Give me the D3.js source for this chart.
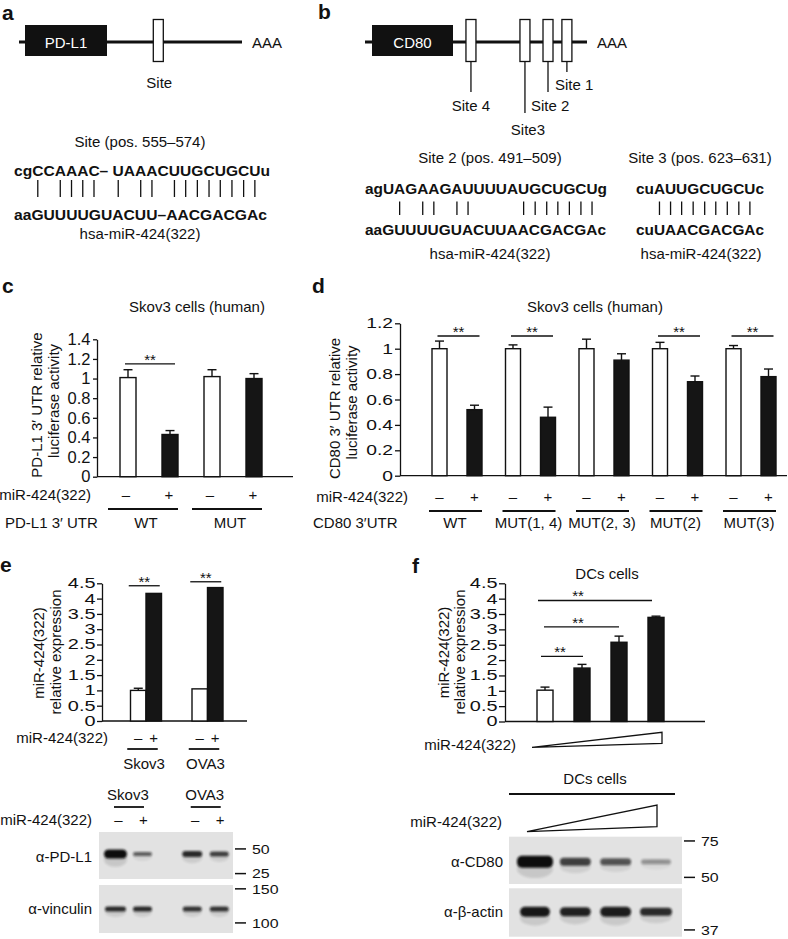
<!DOCTYPE html>
<html><head><meta charset="utf-8">
<script src="https://cdn.jsdelivr.net/npm/d3@7"></script>
<style>
html,body{margin:0;padding:0;background:#fff;}
svg text{font-family:"Liberation Sans",Arial,Helvetica,sans-serif;fill:#111;}
</style></head><body>
<svg id="fig" width="788" height="939" xmlns="http://www.w3.org/2000/svg"></svg>
<script>
// ================= DATA =================
// panel a
const aSeqTop = "cgCCAAAC\u2013 UAAACUUGCUGCUu";
const aSeqBottom = "aaGUUUUGUACUU\u2013AACGACGAc";
const aPairIdx = [2,4,5,6,7,10,12,13,15,16,17,18,19,20,21,22];
const aSitePos = [38];            // relative position on PD-L1 3'UTR (0-100)
// panel b
const bSiteNames = ["Site 4","Site3","Site 2","Site 1"];
const bSitePos = [13.4,53.7,70.9,85];   // relative position on CD80 3'UTR (0-100)
const bSite2Top = "agUAGAAGAUUUUAUGCUGCUg";
const bSite2Bottom = "aaGUUUUGUACUUAACGACGAc";
const bSite2PairIdx = [3,5,6,8,9,14,15,16,17,18,19,20];
const bSite3Top = "cuAUUGCUGCUc";
const bSite3Bottom = "cuUAACGACGAc";
const bSite3PairIdx = [2,3,4,5,6,7,8,9,10];
// panel c
const cGroups = ["WT","MUT"];
const cMinus = [1.01,1.02], cMinusErr = [0.08,0.07];
const cPlus = [0.43,1.00], cPlusErr = [0.04,0.05];
const cTicks = [0,0.2,0.4,0.6,0.8,1,1.2,1.4];
const cSigGroups = ["WT"], cSigLevel = 1.15;
// panel d
const dGroups = ["WT","MUT(1, 4)","MUT(2, 3)","MUT(2)","MUT(3)"];
const dMinus = [1,1,1,1,1], dMinusErr = [0.06,0.03,0.075,0.05,0.025];
const dPlus = [0.52,0.46,0.91,0.74,0.78], dPlusErr = [0.035,0.08,0.05,0.045,0.06];
const dTicks = [0,0.2,0.4,0.6,0.8,1,1.2];
const dSigGroups = ["WT","MUT(1, 4)","MUT(2)","MUT(3)"], dSigLevel = 1.1;
// panel e
const eGroups = ["Skov3","OVA3"];
const eMinus = [1.0,1.05], eMinusErr = [0.07,0];
const ePlus = [4.17,4.36], ePlusErr = [0,0];
const eTicks = [0,0.5,1,1.5,2,2.5,3,3.5,4,4.5];
const eSigLevel = [4.42,4.55];
const ePDL1Band = [1.0,0.6,0.85,0.75], ePDL1Thick = [9,4,6,5];
const eVincBand = [0.85,0.85,0.8,0.8], eVincThick = [5,5,5,5];
const eMarkTop = ["50","25"], eMarkTopPos = [0.36,0.885];
const eMarkBot = ["150","100"], eMarkBotPos = [0.08,0.79];
// panel f
const fLevels = ["1","2","3","4"];
const fValues = [1.02,1.74,2.58,3.39], fErr = [0.1,0.12,0.2,0.04];
const fTicks = [0,0.5,1,1.5,2,2.5,3,3.5,4,4.5];
const fSig = [{to:3, level:3.94},{to:2, level:3.08},{to:1, level:2.12}];
const fCD80Band = [1.0,0.75,0.65,0.35], fCD80Thick = [12,8,7,5];
const fActinBand = [0.95,0.9,0.92,0.85], fActinThick = [10,9,10,8];
const fMarkTop = ["75","50"], fMarkTopPos = [0.09,0.86];
const fMarkBot = ["37"], fMarkBotPos = [0.86];

// ================= DRAWING =================
const svg = d3.select("#fig");
const INK = "#111";
const defs = svg.append("defs");
defs.append("filter").attr("id","blur").attr("x","-50%").attr("y","-100%").attr("width","200%").attr("height","300%")
  .append("feGaussianBlur").attr("stdDeviation",1.1);

function txt(g,x,y,s,o={}){
  const t=g.append("text").attr("x",x).attr("y",y).text(s)
    .attr("font-size",o.size||15).attr("text-anchor",o.anchor||"start");
  if(o.bold) t.attr("font-weight","bold");
  if(o.fill) t.style("fill",o.fill);
  return t;
}
function ln(g,x1,y1,x2,y2,w){
  return g.append("line").attr("x1",x1).attr("y1",y1).attr("x2",x2).attr("y2",y2)
    .attr("stroke",INK).attr("stroke-width",w||1.3);
}
function vlabel(g,x,y,s){
  return g.append("text").attr("transform",`translate(${x},${y}) rotate(-90)`)
    .attr("text-anchor","middle").attr("font-size",15).text(s);
}
function duplex(g,top,bottom,pairs,x0,wTop,wBot,yTop,yBot,l1,l2){
  const t=txt(g,x0,yTop,top,{bold:true,size:15.5}).attr("textLength",wTop).attr("lengthAdjust","spacingAndGlyphs");
  txt(g,x0,yBot,bottom,{bold:true,size:15.5}).attr("textLength",wBot).attr("lengthAdjust","spacingAndGlyphs");
  const n=t.node();
  pairs.forEach(i=>{
    let cx;
    try{const a=n.getStartPositionOfChar(i),b=n.getEndPositionOfChar(i);cx=(a.x+b.x)/2;}
    catch(e){cx=x0+wTop*(i+0.5)/top.length;}
    ln(g,cx,l1,cx,l2,1.3);
  });
}

// panel labels
[["a",2,20],["b",318,19],["c",2,293],["d",312,293],["e",0,572],["f",412,573]]
  .forEach(([s,x,y])=>txt(svg,x,y,s,{bold:true,size:21}));

// ---------- panel a ----------
{
  const g=svg.append("g");
  const utr=d3.scaleLinear().domain([0,100]).range([107,242]);
  ln(g,19,42,utr(100),42,3.2);
  g.append("rect").attr("x",25).attr("y",25).attr("width",utr(0)-25).attr("height",31).attr("fill",INK);
  txt(g,(25+utr(0))/2,47.5,"PD-L1",{anchor:"middle",fill:"#fff"});
  aSitePos.forEach(p=>{
    g.append("rect").attr("x",utr(p)-5).attr("y",19.5).attr("width",10).attr("height",42)
      .attr("fill","#fff").attr("stroke",INK).attr("stroke-width",1.3);
    txt(g,utr(p)+1,88,"Site",{anchor:"middle"});
  });
  txt(g,utr(100)+10,47.5,"AAA");
  txt(g,140,147,"Site (pos. 555\u2013574)",{anchor:"middle"});
  duplex(g,aSeqTop,aSeqBottom,aPairIdx,14,256,253,175.5,219.5,180,197);
  txt(g,140,239,"hsa-miR-424(322)",{anchor:"middle"});
}

// ---------- panel b ----------
{
  const g=svg.append("g");
  const utr=d3.scaleLinear().domain([0,100]).range([453,587]);
  ln(g,365,42,utr(100),42,3.2);
  g.append("rect").attr("x",372).attr("y",25).attr("width",utr(0)-372).attr("height",31).attr("fill",INK);
  txt(g,(372+utr(0))/2,47.5,"CD80",{anchor:"middle",fill:"#fff"});
  const leaderEnd=[92,113,92,72];
  const labelPos=[[0,111,"middle"],[3,135,"middle"],[-17,111,"start"],[-12,90,"start"]];
  bSitePos.forEach((p,i)=>{
    const cx=utr(p);
    ln(g,cx,61.5,cx,leaderEnd[i],1.3);
    g.append("rect").attr("x",cx-5).attr("y",19.5).attr("width",10).attr("height",42)
      .attr("fill","#fff").attr("stroke",INK).attr("stroke-width",1.3);
    txt(g,cx+labelPos[i][0],labelPos[i][1],bSiteNames[i],{anchor:labelPos[i][2]});
  });
  txt(g,utr(100)+10,47.5,"AAA");
  txt(g,490,162.5,"Site 2 (pos. 491\u2013509)",{anchor:"middle"});
  txt(g,700,162.5,"Site 3 (pos. 623\u2013631)",{anchor:"middle"});
  duplex(g,bSite2Top,bSite2Bottom,bSite2PairIdx,365,242,241,194,235,201.5,215);
  duplex(g,bSite3Top,bSite3Bottom,bSite3PairIdx,636,128,128,194,235,201.5,215);
  txt(g,490,259,"hsa-miR-424(322)",{anchor:"middle"});
  txt(g,701,259,"hsa-miR-424(322)",{anchor:"middle"});
}

// ---------- helpers for bar panels ----------
function axis(g,y,x0,x1,ticks,ts,tp,fs,sx){
  const ax=d3.axisLeft(y).tickValues(ticks).tickSize(ts).tickPadding(tp).tickSizeOuter(0).tickFormat(d=>String(d));
  const ag=g.append("g").attr("transform",`translate(${x0},0)`).call(ax);
  ag.attr("font-family",null).attr("font-size",null);
  ag.selectAll("text").attr("font-size",fs)
    .attr("x",-(ts+tp)/sx).attr("transform",`scale(${sx},1)`);
  ag.selectAll("line,path").attr("stroke",INK).attr("stroke-width",1.3);
  ln(g,x0,y(0),x1,y(0),1.3);
}
function bar(g,cx,bw,y,v,e,filled){
  if(e>0){
    ln(g,cx,y(v),cx,y(v+e),1.4);
    ln(g,cx-4.5,y(v+e),cx+4.5,y(v+e),1.4);
  }
  g.append("rect").attr("x",cx-bw/2).attr("y",y(v)).attr("width",bw).attr("height",y(0)-y(v))
    .attr("fill",filled?"#151515":"#fff").attr("stroke",INK).attr("stroke-width",1.4);
}
function sig(g,x1,x2,yp,sx){
  ln(g,x1,yp,x2,yp,1.3);
  txt(g,sx===undefined?(x1+x2)/2:sx,yp+1,"**",{anchor:"middle",size:15});
}

// ---------- panel c ----------
{
  const g=svg.append("g");
  const y=d3.scaleLinear().domain([0,1.4]).range([476.7,339.3]);
  const x=d3.scaleBand().domain(cGroups).range([107,275]);
  const s=d3.scalePoint().domain(["-","+"]).range([0,x.bandwidth()]).padding(0.5);
  txt(g,197,312,"Skov3 cells (human)",{anchor:"middle"});
  axis(g,y,97,293,cTicks,4,2.5,16.5,1);
  cGroups.forEach((k,i)=>{
    const c1=x(k)+s("-"),c2=x(k)+s("+");
    bar(g,c1,16,y,cMinus[i],cMinusErr[i],false);
    bar(g,c2,16,y,cPlus[i],cPlusErr[i],true);
    if(cSigGroups.includes(k)) sig(g,c1-3,c2+5,y(cSigLevel));
    txt(g,c1-2,500,"\u2013",{anchor:"middle"});
    txt(g,c2-1,500,"+",{anchor:"middle"});
    ln(g,c1-20,509,c2+8,509,1.8);
    txt(g,(c1+c2)/2-3,528,k,{anchor:"middle"});
  });
  vlabel(g,42,405,"PD-L1 3\u2032 UTR relative");
  vlabel(g,58.5,401,"luciferase activity");
  txt(g,91,500,"miR-424(322)",{anchor:"end"});
  txt(g,5,528,"PD-L1 3\u2032 UTR");
}

// ---------- panel d ----------
{
  const g=svg.append("g");
  const y=d3.scaleLinear().domain([0,1.2]).range([475.7,323.3]);
  const x=d3.scaleBand().domain(dGroups).range([420.25,787.75]);
  const s=d3.scalePoint().domain(["-","+"]).range([0,x.bandwidth()]).padding(0.55);
  txt(g,595,312,"Skov3 cells (human)",{anchor:"middle"});
  axis(g,y,400,787,dTicks,5,2,14.5,1.33);
  dGroups.forEach((k,i)=>{
    const c1=x(k)+s("-"),c2=x(k)+s("+");
    bar(g,c1,15,y,dMinus[i],dMinusErr[i],false);
    bar(g,c2,15,y,dPlus[i],dPlusErr[i],true);
    if(dSigGroups.includes(k)) sig(g,c1-2,c2+5,y(dSigLevel));
    txt(g,c1,502,"\u2013",{anchor:"middle"});
    txt(g,c2,502,"+",{anchor:"middle"});
    ln(g,c1-10.5,511,c2+7.5,511,1.8);
    txt(g,(c1+c2)/2-2,528,k,{anchor:"middle"});
  });
  vlabel(g,340,408.5,"CD80 3\u2032 UTR relative");
  vlabel(g,357,402.5,"luciferase activity");
  txt(g,408,502,"miR-424(322)",{anchor:"end"});
  txt(g,313,528,"CD80 3\u2032UTR");
}

// ---------- panel e ----------
{
  const g=svg.append("g");
  const y=d3.scaleLinear().domain([0,4.5]).range([721,583.3]);
  const x=d3.scaleBand().domain(eGroups).range([115.25,238.25]);
  const s=d3.scalePoint().domain(["-","+"]).range([0,x.bandwidth()]).padding(1.484);
  axis(g,y,102,247,eTicks,5,1.5,14,1.42);
  eGroups.forEach((k,i)=>{
    const c1=x(k)+s("-"),c2=x(k)+s("+");
    bar(g,c1,15.5,y,eMinus[i],eMinusErr[i],false);
    bar(g,c2,15.5,y,ePlus[i],ePlusErr[i],true);
    sig(g,c1-9.5,c2+6,y(eSigLevel[i]));
    txt(g,c1,742.5,"\u2013",{anchor:"middle"});
    txt(g,c2,742.5,"+",{anchor:"middle"});
    ln(g,c1-11,749,c2+4,749,1.8);
    txt(g,(c1+c2)/2-2,768.5,k,{anchor:"middle"});
  });
  vlabel(g,44,653,"miR-424(322)");
  vlabel(g,60.5,652,"relative expression");
  txt(g,108,743,"miR-424(322)",{anchor:"end"});
}

// ---------- panel f ----------
{
  const g=svg.append("g");
  const y=d3.scaleLinear().domain([0,4.5]).range([721.5,583.3]);
  const x=d3.scaleBand().domain(fLevels).range([526.5,674.5]);
  const cx=k=>x(k)+x.bandwidth()/2;
  txt(g,607,579,"DCs cells",{anchor:"middle"});
  axis(g,y,505,705,fTicks,6,1.5,14,1.42);
  fLevels.forEach((k,i)=>bar(g,cx(k),16,y,fValues[i],fErr[i],i>0));
  const starX=[578,578,560];
  fSig.forEach((d,i)=>{
    const x1=cx(fLevels[0])-[7,1,4][i], x2=cx(fLevels[d.to])+[-4,0,1][i];
    sig(g,x1,x2,y(d.level),starX[i]);
  });
  vlabel(g,448.5,652.5,"miR-424(322)");
  vlabel(g,465,652,"relative expression");
  txt(g,516,750,"miR-424(322)",{anchor:"end"});
  const w0=cx(fLevels[0])-13, w1=cx(fLevels[3])+6;
  g.append("path").attr("d",`M${w0},747.3 L${w1},732.3 L${w1},743.3 Z`)
    .attr("fill","#fff").attr("stroke",INK).attr("stroke-width",1.3).attr("stroke-linejoin","miter");
}

// ---------- blots ----------
function blot(g,bx,by,bw,bh,lanes,bandY,inten,thick,laneW){
  g.append("rect").attr("x",bx).attr("y",by).attr("width",bw).attr("height",bh).attr("fill","#e2e2e2");
  lanes.forEach((lx,i)=>{
    const w=laneW[i];
    g.append("ellipse").attr("cx",lx).attr("cy",bandY+thick[i]*0.6).attr("rx",w/2).attr("ry",thick[i]*0.6+2)
      .attr("fill","#111").attr("opacity",inten[i]*0.12).attr("filter","url(#blur)");
    g.append("rect").attr("x",lx-w/2).attr("y",bandY-thick[i]/2).attr("width",w).attr("height",thick[i])
      .attr("rx",Math.min(thick[i]/2,5)).attr("fill","#111").attr("opacity",inten[i]).attr("filter","url(#blur)");
  });
}
function markers(g,tx,by,bh,labels,pos){
  labels.forEach((l,i)=>{
    const yy=by+bh*pos[i];
    ln(g,tx,yy,tx+11,yy,1.5);
    g.append("text").attr("transform",`translate(${tx+17},${yy+4.8}) scale(1.18,1)`)
      .attr("font-size",13.5).text(l);
  });
}
// e blot
{
  const g=svg.append("g");
  const x=d3.scaleBand().domain(eGroups).range([90.6,244.1]);
  const s=d3.scalePoint().domain(["-","+"]).range([0,x.bandwidth()]).padding(0.921);
  const lanes=[];
  eGroups.forEach(k=>{
    const c1=x(k)+s("-"),c2=x(k)+s("+");
    lanes.push(c1,c2);
    txt(g,(c1+c2)/2-1,800,k,{anchor:"middle"});
    ln(g,(c1+c2)/2-15,807,(c1+c2)/2+15,807,1.8);
    txt(g,c1+3,825,"\u2013",{anchor:"middle"});
    txt(g,c2+1,825,"+",{anchor:"middle"});
  });
  txt(g,92,825,"miR-424(322)",{anchor:"end"});
  blot(g,99,832,134,47,lanes,854,ePDL1Band,ePDL1Thick,[23,19,20,19]);
  blot(g,99,885,134,48,lanes,909,eVincBand,eVincThick,[21,19,19,19]);
  txt(g,92,862,"\u03b1-PD-L1",{anchor:"end"});
  txt(g,92,914,"\u03b1-vinculin",{anchor:"end"});
  markers(g,235,832,47,eMarkTop,eMarkTopPos);
  markers(g,235,885,48,eMarkBot,eMarkBotPos);
}
// f blot
{
  const g=svg.append("g");
  const x=d3.scalePoint().domain(fLevels).range([535,656]);
  const lanes=fLevels.map(k=>x(k));
  txt(g,595,784,"DCs cells",{anchor:"middle"});
  ln(g,509,794,675,794,1.8);
  txt(g,502,827,"miR-424(322)",{anchor:"end"});
  const w0=lanes[0]-8, w1=lanes[3]+1;
  g.append("path").attr("d",`M${w0},831.7 L${w1},805 L${w1},826.7 Z`)
    .attr("fill","#fff").attr("stroke",INK).attr("stroke-width",1.3);
  blot(g,509,836.7,173,47.3,lanes,861.7,fCD80Band,fCD80Thick,[36,31,31,30]);
  blot(g,509,888.3,173,48.4,lanes,911.7,fActinBand,fActinThick,[30,31,31,32]);
  txt(g,503,866.7,"\u03b1-CD80",{anchor:"end"});
  txt(g,503,917,"\u03b1-\u03b2-actin",{anchor:"end"});
  markers(g,684,836.7,47.3,fMarkTop,fMarkTopPos);
  markers(g,684,888.3,48.4,fMarkBot,fMarkBotPos);
}
</script>
</body></html>
